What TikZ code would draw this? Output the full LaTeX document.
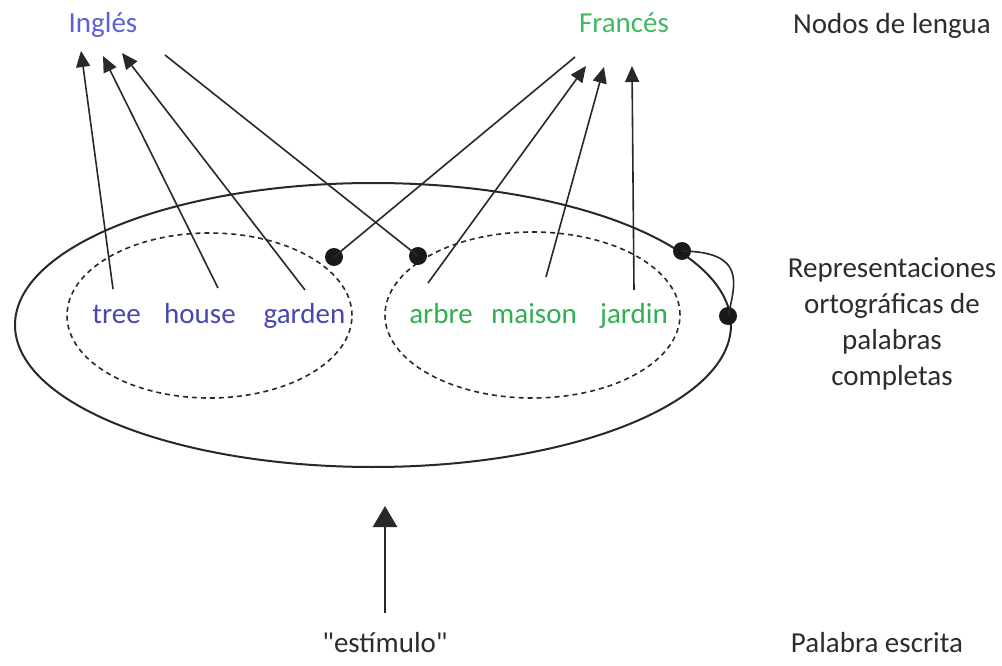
\documentclass[tikz,border=0pt]{standalone}
\usepackage{fontspec}
\setmainfont{Carlito}[Ligatures=TeXOff]
\usetikzlibrary{arrows.meta}
\definecolor{engtitle}{RGB}{92,96,214}
\definecolor{engword}{RGB}{70,72,176}
\definecolor{frtitle}{RGB}{64,186,96}
\definecolor{frword}{RGB}{48,174,82}
\definecolor{ink}{RGB}{40,40,40}
\definecolor{captioncol}{RGB}{45,45,45}
\tikzset{
  lbl/.style={font=\fontsize{29}{36}\selectfont, inner sep=0pt, anchor=base},
  engt/.style={lbl, text=engtitle},
  engw/.style={lbl, text=engword},
  frt/.style={lbl, text=frtitle},
  frw/.style={lbl, text=frword},
  captext/.style={lbl, text=captioncol, align=center},
  link/.style={draw=ink, line width=1.6pt},
  arr/.style={link, -{Triangle[length=16pt,width=14pt]}},
  bigarr/.style={draw=ink, line width=2.6pt, -{Triangle[length=21pt,width=24pt]}},
  junction/.style={circle, fill=black!90, inner sep=0pt, minimum size=18pt},
  outer/.style={draw=ink, line width=2pt},
  group/.style={draw=ink, line width=1.6pt, dash pattern=on 5pt off 4pt},
}
\begin{document}
\begin{tikzpicture}[x=1pt,y=-1pt]
\useasboundingbox (0,0) rectangle (1002,666);

% language nodes and captions
\node[engt] (ingles) at (103,33) {Inglés};
\node[frt] (frances) at (624,33) {Francés};
\node[captext] (nodos) at (892,34) {Nodos de lengua};
\node[captext, anchor=north] (repr) at (892,257)
  {Representaciones\\ortográficas de\\palabras\\completas};
\node[captext] (estimulo) at (385,652) {"estímulo"};
\node[captext] (escrita) at (877,652) {Palabra escrita};

% lexicon and the two language groups
\draw[outer] (373,325) ellipse [x radius=358pt, y radius=142pt];
\draw[group] (209.5,315.5) ellipse [x radius=142.5pt, y radius=82.5pt];
\draw[group] (532.5,315) ellipse [x radius=147.5pt, y radius=83pt];

% word forms
\node[engw] (tree) at (116.5,323) {tree};
\node[engw] (house) at (200,323) {house};
\node[engw] (garden) at (304.5,323) {garden};
\node[frw] (arbre) at (441,323) {arbre};
\node[frw] (maison) at (534,323) {maison};
\node[frw] (jardin) at (634,323) {jardin};

% junction points
\node[junction] (jl) at (334,257) {};
\node[junction] (jr) at (418,256) {};
\node[junction] (ja) at (682,251) {};
\node[junction] (jb) at (728,316) {};

% arrow ends
\coordinate (t1) at (81,51);
\coordinate (t2) at (103,56);
\coordinate (t3) at (122,53);
\coordinate (e4) at (165,55);
\coordinate (e5) at (575,57);
\coordinate (t6) at (586,66);
\coordinate (t7) at (604,67);
\coordinate (t8) at (632,66);
\coordinate (s1) at (113,289);
\coordinate (s2) at (218,288);
\coordinate (s3) at (305,290);
\coordinate (s6) at (428,283);
\coordinate (s7) at (546,277);
\coordinate (s8) at (634,290);
\coordinate (stim) at (385,613);
\coordinate (lex) at (385,506);

% connections to language nodes
\draw[arr] (s1) -- (t1);
\draw[arr] (s2) -- (t2);
\draw[arr] (s3) -- (t3);
\draw[link] (e4) -- (jr.center);
\draw[link] (e5) -- (jl.center);
\draw[arr] (s6) -- (t6);
\draw[arr] (s7) -- (t7);
\draw[arr] (s8) -- (t8);

% loop between the two right junctions
\draw[link] (ja.center) .. controls (745,252) and (736,282) .. (jb.center);

% written input
\draw[bigarr] (stim) -- (lex);
\end{tikzpicture}
\end{document}
